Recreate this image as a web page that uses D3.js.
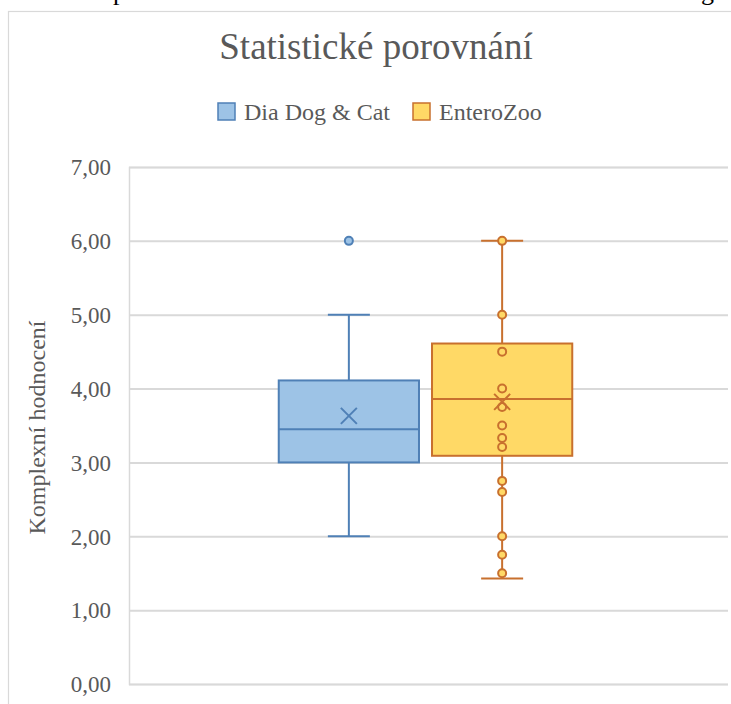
<!DOCTYPE html>
<html>
<head>
<meta charset="utf-8">
<script src="https://cdn.jsdelivr.net/npm/d3@7/dist/d3.min.js"></script>
<style>
  html, body { margin: 0; padding: 0; background: #fff; }
  svg { display: block; }
</style>
</head>
<body>
<svg id="chart" width="731" height="704"></svg>
<script>
// Series and their box-plot statistics
const seriesNames = ["Dia Dog & Cat", "EnteroZoo"];
const whiskerMin  = [2.00, 1.43];
const quartile1   = [3.00, 3.09];
const medians     = [3.45, 3.86];
const quartile3   = [4.11, 4.61];
const whiskerMax  = [5.00, 6.00];
const means       = [3.63, 3.82];
const outliersDia = [6.00];
const innerPointsEntero = [6.00, 5.00, 4.50, 4.00, 3.75, 3.50, 3.33, 3.21, 2.75, 2.60, 2.00, 1.75, 1.50];
const yTicks = [0, 1, 2, 3, 4, 5, 6, 7];

const fills   = ["#9DC3E6", "#FFD966"];
const strokes = ["#4F80B6", "#C8702E"];
const textColor = "#595959";
const gridColor = "#D9D9D9";
const font = "'Liberation Serif', 'Times New Roman', serif";

const svg = d3.select("#chart");

// Fragments of the surrounding document line above the chart frame
svg.append("text").attr("x", 113).attr("y", 0).attr("font-family", font)
  .attr("font-size", 26).attr("fill", "#000").text("p");
svg.append("text").attr("x", 701).attr("y", 0).attr("font-family", font)
  .attr("font-size", 26).attr("fill", "#000").text("g");

// Chart frame (extends past the right and bottom edges)
const frame = { left: 8, top: 11, width: 736 };
svg.append("rect").attr("x", frame.left + 0.5).attr("y", frame.top + 0.5).attr("width", 900).attr("height", 900)
  .attr("fill", "#fff").attr("stroke", gridColor).attr("stroke-width", 1.2);
const frameCenter = frame.left + frame.width / 2;

const plot = { left: 129, right: 728, top: 167, bottom: 684 };

const y = d3.scaleLinear().domain([0, 7]).range([plot.bottom, plot.top]);

// Single category group, split into one band per series
const groupShare = 0.49;
const cx = (plot.left + plot.right) / 2 - 3;
const gw = (plot.right - plot.left) * groupShare;
const x = d3.scaleBand().domain(seriesNames).range([cx - gw / 2, cx + gw / 2]).paddingInner(0.085);

// Title
svg.append("text").attr("x", frameCenter).attr("y", 59).attr("text-anchor", "middle")
  .attr("font-family", font).attr("font-size", 37).attr("fill", textColor)
  .text("Statistické porovnání");

// Legend
const legend = svg.append("g");
const legendItems = [{ x: 218, name: seriesNames[0] }, { x: 413, name: seriesNames[1] }];
legendItems.forEach((d, i) => {
  legend.append("rect").attr("x", d.x).attr("y", 103).attr("width", 17).attr("height", 17)
    .attr("fill", fills[i]).attr("stroke", strokes[i]).attr("stroke-width", 1.5);
  legend.append("text").attr("x", d.x + 26).attr("y", 120)
    .attr("font-family", font).attr("font-size", 24).attr("fill", textColor).text(d.name);
});

// Gridlines and y axis
const yAxis = d3.axisLeft(y).tickValues(yTicks)
  .tickFormat(v => d3.format(".2f")(v).replace(".", ","))
  .tickSize(-(plot.right - plot.left)).tickPadding(18);
const ga = svg.append("g").attr("transform", `translate(${plot.left},0)`).call(yAxis);
ga.select(".domain").attr("stroke", gridColor).attr("stroke-width", 1.5);
ga.selectAll(".tick line").attr("stroke", gridColor).attr("stroke-width", 2);
ga.selectAll(".tick text").attr("font-family", font).attr("font-size", 23).attr("fill", textColor)
  .attr("dy", "0.34em");

// Y axis title
svg.append("text").attr("transform", `translate(45, ${(plot.top + plot.bottom) / 2 + 2}) rotate(-90)`)
  .attr("text-anchor", "middle").attr("font-family", font).attr("font-size", 24)
  .attr("fill", textColor).text("Komplexní hodnocení");

// Box plots
seriesNames.forEach((name, i) => {
  const g = svg.append("g");
  const x0 = x(name), bw = x.bandwidth(), xc = x0 + bw / 2;
  const capHalf = 21;
  const lineAttrs = sel => sel.attr("stroke", strokes[i]).attr("stroke-width", 2).attr("fill", "none");

  // whiskers
  g.append("line").attr("x1", xc).attr("x2", xc).attr("y1", y(whiskerMax[i])).attr("y2", y(quartile3[i])).call(lineAttrs);
  g.append("line").attr("x1", xc).attr("x2", xc).attr("y1", y(quartile1[i])).attr("y2", y(whiskerMin[i])).call(lineAttrs);
  g.append("line").attr("x1", xc - capHalf).attr("x2", xc + capHalf).attr("y1", y(whiskerMax[i])).attr("y2", y(whiskerMax[i])).call(lineAttrs);
  g.append("line").attr("x1", xc - capHalf).attr("x2", xc + capHalf).attr("y1", y(whiskerMin[i])).attr("y2", y(whiskerMin[i])).call(lineAttrs);

  // box
  g.append("rect").attr("x", x0).attr("y", y(quartile3[i]))
    .attr("width", bw).attr("height", y(quartile1[i]) - y(quartile3[i]))
    .attr("fill", fills[i]).attr("stroke", strokes[i]).attr("stroke-width", 2);
  // median
  g.append("line").attr("x1", x0).attr("x2", x0 + bw).attr("y1", y(medians[i])).attr("y2", y(medians[i])).call(lineAttrs);

  // inner points / outliers
  const pts = i === 0 ? outliersDia : innerPointsEntero;
  g.selectAll("circle").data(pts).join("circle")
    .attr("cx", xc).attr("cy", d => y(d)).attr("r", 4)
    .attr("fill", fills[i]).attr("stroke", strokes[i]).attr("stroke-width", 2);

  // mean marker
  const m = 8, my = y(means[i]);
  g.append("path").attr("d", `M${xc - m},${my - m}L${xc + m},${my + m}M${xc - m},${my + m}L${xc + m},${my - m}`)
    .call(lineAttrs);
});
</script>
</body>
</html>
